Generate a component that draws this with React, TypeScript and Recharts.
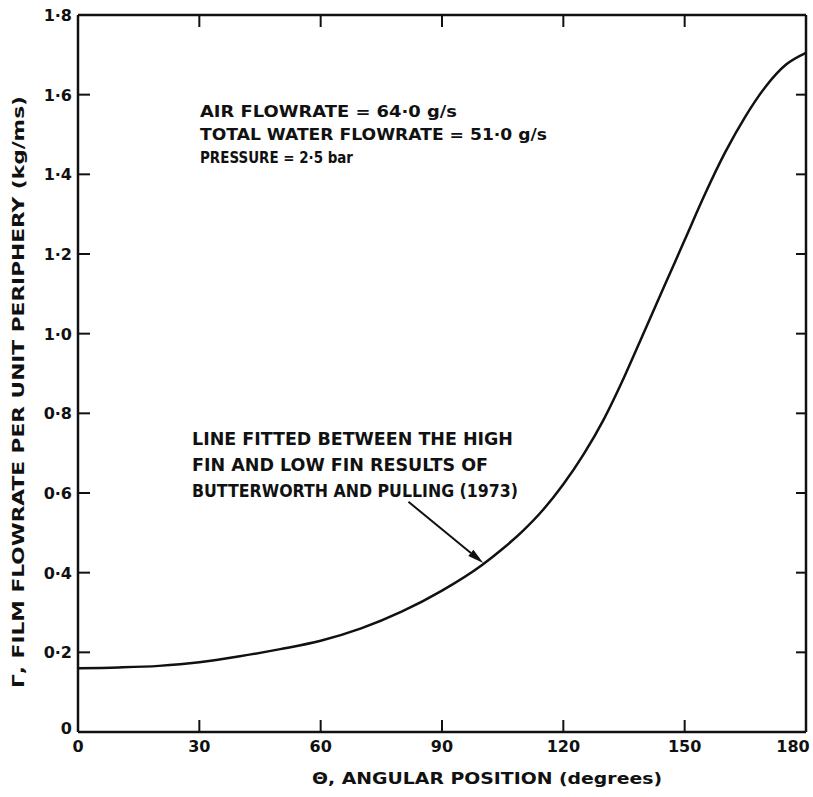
import { LineChart, Line, XAxis, YAxis, ReferenceLine } from 'recharts'

// angular position (degrees) and film flowrate (kg/ms)
const ANGLES = [0, 10, 20, 30, 40, 50, 60, 70, 80, 90, 100, 105, 110, 115, 120, 125, 130, 135, 140, 145, 150, 155, 160, 165, 170, 175, 180]
const FLOWRATES = [
	0.16, 0.162, 0.166, 0.175, 0.19, 0.208, 0.229, 0.26, 0.302, 0.355, 0.42, 0.46, 0.505, 0.558, 0.622, 0.697,
	0.785, 0.89, 1.005, 1.12, 1.235, 1.35, 1.455, 1.545, 1.62, 1.675, 1.705,
]

const X_TICKS = [0, 30, 60, 90, 120, 150, 180]
const Y_TICKS = [0, 0.2, 0.4, 0.6, 0.8, 1.0, 1.2, 1.4, 1.6, 1.8]
const INNER_X_TICKS = [30, 60, 90, 120, 150]
const INNER_Y_TICKS = [0.2, 0.4, 0.6, 0.8, 1.0, 1.2, 1.4, 1.6]

const CONDITIONS = ['AIR  FLOWRATE = 64·0 g/s', 'TOTAL WATER FLOWRATE = 51·0 g/s', 'PRESSURE = 2·5 bar']
const CONDITION_WIDTHS = [257, 347, 153]
const NOTE = ['LINE FITTED BETWEEN THE HIGH', 'FIN AND LOW FIN RESULTS OF', 'BUTTERWORTH AND PULLING (1973)']
const NOTE_WIDTHS = [321, 296, 326]

// arrow from note to curve, in data units
const ARROW = [
	{ x: 81.7, y: 0.578 },
	{ x: 100.2, y: 0.424 },
]

const data = ANGLES.map((a, i) => ({ angle: a, flow: FLOWRATES[i] }))

const FONT = '"DejaVu Sans", sans-serif'
const INK = '#111'
const TICK = 12

const fmtY = (v: number) => (v === 0 ? '0' : v.toFixed(1).replace('.', '·'))

const LeftTick = (props: any) => {
	const { x, y, payload } = props
	const v = payload.value
	return (
		<text
			x={x - 6}
			y={v === 0 ? y + 2 : y + 6}
			textAnchor="end"
			fontFamily={FONT}
			fontWeight="bold"
			fontSize={16}
			fill={INK}
		>
			{fmtY(v)}
		</text>
	)
}

const BottomTick = (props: any) => {
	const { x, y, payload } = props
	const v = payload.value
	const dx = v === 180 ? -8 : 0
	return (
		<text x={x + dx} y={y + TICK + 20} textAnchor="middle" fontFamily={FONT} fontWeight="bold" fontSize={16} fill={INK}>
			{v}
		</text>
	)
}

// a full-width reference line drawn only as two inward stubs at its ends
const SideStubs = (props: any) => {
	const { x1, y1, x2, y2 } = props
	const left = Math.min(x1, x2)
	const right = Math.max(x1, x2)
	return (
		<g>
			<line x1={left} y1={y1} x2={left + TICK} y2={y1} stroke={INK} strokeWidth={2} />
			<line x1={right - 10} y1={y2} x2={right} y2={y2} stroke={INK} strokeWidth={2} />
		</g>
	)
}

// a full-height reference line drawn only as an inward stub at the top
const TopStub = (props: any) => {
	const { x1, y1, y2 } = props
	const top = Math.min(y1, y2)
	return <line x1={x1} y1={top} x2={x1} y2={top + TICK} stroke={INK} strokeWidth={2} />
}

const Arrow = (props: any) => {
	const { x1, y1, x2, y2 } = props
	const ang = Math.atan2(y2 - y1, x2 - x1)
	const len = 16
	const w = 4
	const bx = x2 - len * Math.cos(ang)
	const by = y2 - len * Math.sin(ang)
	const px = -Math.sin(ang) * w
	const py = Math.cos(ang) * w
	return (
		<g>
			<line x1={x1} y1={y1} x2={bx} y2={by} stroke={INK} strokeWidth={2} />
			<polygon points={`${x2},${y2} ${bx + px},${by + py} ${bx - px},${by - py}`} fill={INK} />
		</g>
	)
}

const axisLine = { stroke: INK, strokeWidth: 2.5 }
const tickLine = { stroke: INK, strokeWidth: 2 }

export default function App() {
	return (
		<div style={{ position: 'absolute', left: 0, top: 0, width: 813, height: 797, background: '#fff' }}>
			<LineChart width={813} height={797} data={data} margin={{ top: 14, right: 6, left: 18, bottom: 35 }}>
				<XAxis
					xAxisId="bottom"
					dataKey="angle"
					type="number"
					domain={[0, 180]}
					ticks={X_TICKS}
					height={30}
					tickSize={-TICK}
					tickMargin={0}
					tick={BottomTick}
					axisLine={axisLine}
					tickLine={tickLine}
				/>
				<XAxis
					xAxisId="top"
					orientation="top"
					dataKey="angle"
					type="number"
					domain={[0, 180]}
					height={1}
					tick={false}
					axisLine={axisLine}
					tickLine={false}
				/>
				<YAxis
					yAxisId="left"
					type="number"
					domain={[0, 1.8]}
					ticks={Y_TICKS}
					width={60}
					tickSize={0}
					tickMargin={0}
					tick={LeftTick}
					axisLine={axisLine}
					tickLine={false}
				/>
				<YAxis
					yAxisId="right"
					orientation="right"
					type="number"
					domain={[0, 1.8]}
					width={1}
					tick={false}
					axisLine={axisLine}
					tickLine={false}
				/>
				{INNER_Y_TICKS.map(v => (
					<ReferenceLine
						key={`y${v}`}
						xAxisId="bottom"
						yAxisId="left"
						ifOverflow="visible"
						segment={[{ x: 0, y: v }, { x: 180, y: v }]}
						shape={SideStubs}
					/>
				))}
				{INNER_X_TICKS.map(v => (
					<ReferenceLine
						key={`x${v}`}
						xAxisId="bottom"
						yAxisId="left"
						ifOverflow="visible"
						segment={[{ x: v, y: 0 }, { x: v, y: 1.8 }]}
						shape={TopStub}
					/>
				))}
				<Line
					xAxisId="bottom"
					yAxisId="left"
					type="monotone"
					dataKey="flow"
					stroke={INK}
					strokeWidth={2.5}
					dot={false}
					isAnimationActive={false}
				/>
				<ReferenceLine xAxisId="bottom" yAxisId="left" ifOverflow="visible" segment={ARROW} shape={Arrow} />
				<text
					transform="translate(24, 392) rotate(-90)"
					textAnchor="middle"
					fontFamily={FONT}
					fontWeight="bold"
					fontSize={15}
					fill={INK}
					textLength={592}
					lengthAdjust="spacingAndGlyphs"
				>
					Γ, FILM FLOWRATE PER UNIT PERIPHERY (kg/ms)
				</text>
				<text
					x={487}
					y={784}
					textAnchor="middle"
					fontFamily={FONT}
					fontWeight="bold"
					fontSize={16}
					fill={INK}
					textLength={350}
					lengthAdjust="spacingAndGlyphs"
				>
					Θ, ANGULAR POSITION (degrees)
				</text>
				{CONDITIONS.map((line, i) => (
					<text
						key={line}
						x={200}
						y={117 + i * 23}
						fontFamily={FONT}
						fontWeight="bold"
						fontSize={16}
						fill={INK}
						textLength={CONDITION_WIDTHS[i]}
						lengthAdjust="spacingAndGlyphs"
					>
						{line}
					</text>
				))}
				{NOTE.map((line, i) => (
					<text
						key={line}
						x={192}
						y={445 + i * 26}
						fontFamily={FONT}
						fontWeight="bold"
						fontSize={17}
						fill={INK}
						textLength={NOTE_WIDTHS[i]}
						lengthAdjust="spacingAndGlyphs"
					>
						{line}
					</text>
				))}
			</LineChart>
		</div>
	)
}
